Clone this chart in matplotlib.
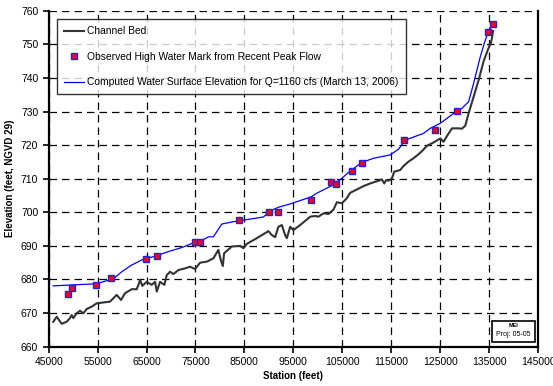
import numpy as np
import matplotlib
matplotlib.use('Agg')
import matplotlib.pyplot as plt
from matplotlib.patches import Rectangle

plt.rcParams['font.family'] = ['Liberation Sans', 'DejaVu Sans']

# channel bed profile (station ft, elevation ft)
bed_sta = [45940, 46640, 47660, 48680, 49360, 49700, 50030, 50720, 51400, 52080,
           52770, 53790, 54820, 57540, 58210, 58900, 59780, 60600, 61970, 62990,
           63470, 63670, 64140, 65040, 66060, 66740, 67090, 67760, 68640, 69130,
           69810, 70480, 71500, 72870, 73890, 74920, 75940, 77310, 78660, 79680,
           80170, 80580, 80850, 82420, 84120, 84800, 85490, 87540, 89910, 90600,
           91270, 91950, 92650, 92980, 93320, 93670, 94350, 95020, 96390, 98440,
           99460, 100130, 101160, 102180, 103200, 103890, 104910, 105940, 106610, 107980,
           109340, 110700, 112400, 113090, 113560, 113970, 114440, 115140, 115610, 116840,
           117520, 118540, 119560, 120580, 121270, 122290, 123650, 125020, 125690, 126380,
           127410, 128770, 129450, 130130, 130810, 131830, 132860, 133880, 134900, 135380,
           135580, 135800]
bed_elev = [667.4, 668.9, 666.8, 667.4, 668.5, 669.4, 668.5, 669.9, 670.7, 669.9,
            671.2, 671.9, 672.9, 673.4, 674.4, 675.4, 673.9, 675.9, 677.1, 677.1,
            678.9, 679.9, 678.1, 679.3, 678.4, 679.3, 676.4, 679.3, 678.4, 681.3,
            682.3, 681.6, 682.8, 683.3, 683.8, 683.1, 685.0, 685.3, 686.3, 688.8,
            685.8, 684.0, 687.8, 689.8, 690.0, 689.3, 690.6, 692.3, 694.4, 693.2,
            692.6, 695.7, 696.2, 694.7, 693.2, 692.3, 695.7, 694.7, 696.2, 698.7,
            698.9, 698.7, 699.7, 699.5, 700.8, 703.0, 702.7, 704.2, 705.8, 706.8,
            707.8, 708.6, 709.4, 709.8, 708.6, 709.6, 709.4, 710.1, 712.1, 712.6,
            713.8, 715.1, 716.1, 717.3, 718.2, 719.8, 720.8, 722.0, 721.0, 722.7,
            725.0, 725.0, 724.9, 725.8, 729.5, 734.4, 739.4, 745.0, 749.0, 750.5,
            752.0, 754.0]

# computed water surface, Q=1160 cfs
ws_sta = [45940, 54670, 57540, 58560, 59930, 61970, 64020, 67150, 69460, 72200,
          74920, 76960, 77640, 78660, 80380, 82750, 88890, 90250, 91950, 94350,
          98640, 99800, 102530, 104570, 106610, 108930, 111380, 114800, 116490, 117860,
          121600, 122970, 125020, 128350, 129450, 130810, 131830, 133190, 134010, 134780,
          135720]
ws_elev = [678.1, 678.7, 679.9, 680.6, 682.3, 684.3, 685.8, 687.1, 688.3, 689.5,
           691.1, 692.1, 692.7, 692.7, 696.5, 697.2, 698.6, 700.4, 701.5, 702.5,
           704.6, 705.7, 707.7, 709.7, 712.3, 714.8, 716.1, 717.1, 718.8, 721.5,
           723.5, 725.0, 726.5, 730.1, 731.0, 732.9, 738.4, 746.3, 750.3, 753.7,
           756.2]

# observed high water marks
hwm_sta = [48890, 49760, 54670, 57800, 64900, 67150, 74920, 75880, 83850, 90110,
           91950, 98640, 102730, 103610, 106960, 108930, 117660, 124000, 128350, 134780,
           135720]
hwm_elev = [675.6, 677.6, 678.5, 680.5, 686.0, 687.1, 691.1, 691.1, 697.6, 700.1,
            700.0, 703.6, 709.0, 708.3, 712.3, 714.7, 721.5, 724.4, 730.1, 753.7,
            756.2]

fig = plt.figure(figsize=(5.53, 3.86), dpi=100)
ax = fig.add_axes([0.088, 0.102, 0.885, 0.870])

ax.plot(bed_sta, bed_elev, color='#333333', lw=1.5, label='Channel Bed', zorder=3)
ax.plot(hwm_sta, hwm_elev, ls='none', marker='s', ms=4.5, mfc='red', mec='#2020ff',
        mew=1.0, label='Observed High Water Mark from Recent Peak Flow', zorder=5)
ax.plot(ws_sta, ws_elev, color='blue', lw=0.9,
        label='Computed Water Surface Elevation for Q=1160 cfs (March 13, 2006)', zorder=4)

ax.set_xlim(45000, 145000)
ax.set_ylim(660, 760)
ax.set_xticks(np.arange(45000, 145001, 10000))
ax.set_yticks(np.arange(660, 761, 10))
ax.grid(True, color='black', ls=(0, (6, 4)), lw=0.9)
ax.set_axisbelow(True)

for s in ['left', 'bottom', 'right']:
    ax.spines[s].set_linewidth(1.6)
ax.spines['top'].set_visible(False)
ax.tick_params(direction='out', length=4, width=1.2, labelsize=7.5, colors='black')

ax.set_xlabel('Station (feet)', fontsize=7, fontweight='bold', labelpad=3)
ax.set_ylabel('Elevation (feet, NGVD 29)', fontsize=7, fontweight='bold', labelpad=4)

leg = ax.legend(loc='upper left', bbox_to_anchor=(0.0163, 0.975), borderaxespad=0,
                fontsize=7.4, frameon=True, fancybox=False, labelspacing=1.5,
                handlelength=2.0, handletextpad=0.3, borderpad=0.7)
leg.get_frame().set_edgecolor('black')
leg.get_frame().set_linewidth(1.0)

# little project stamp, lower right
box = Rectangle((0.906, 0.015), 0.087, 0.062, transform=ax.transAxes, fill=True,
                fc='white', ec='black', lw=1.2, zorder=6)
ax.add_patch(box)
ax.text(0.9495, 0.062, 'MEI', transform=ax.transAxes, fontsize=4, fontweight='bold',
        ha='center', va='center', zorder=7)
ax.text(0.9495, 0.035, 'Proj: 05-05', transform=ax.transAxes, fontsize=5,
        ha='center', va='center', zorder=7)

fig.savefig('out.png', dpi=100)
